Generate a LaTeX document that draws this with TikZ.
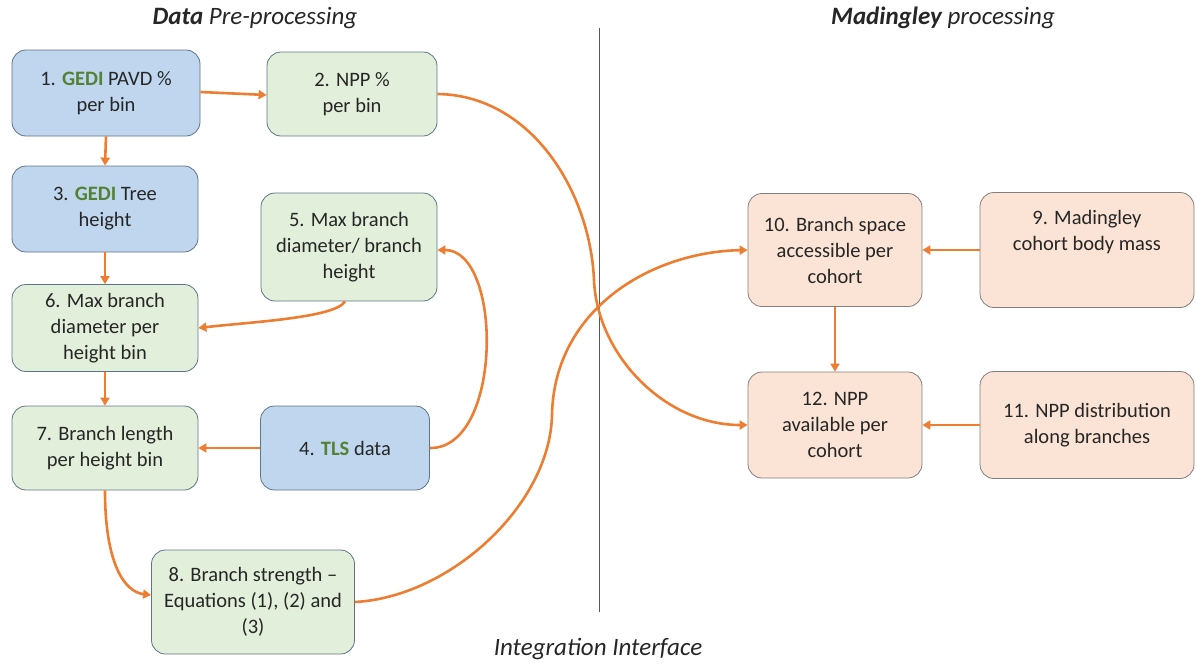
\documentclass[tikz,border=0pt]{standalone}
\usepackage{fontspec}
\setmainfont{Carlito}
\usetikzlibrary{arrows.meta}
\definecolor{bluef}{HTML}{BFD6EE}
\definecolor{greenf}{HTML}{E2EFDA}
\definecolor{peachf}{HTML}{FBE4D5}
\definecolor{bord}{HTML}{5F7488}
\definecolor{pbord}{HTML}{7F7F7F}
\definecolor{orng}{HTML}{ED7D31}
\definecolor{txt}{HTML}{262626}
\definecolor{gedi}{HTML}{548235}
\newcommand{\gd}[1]{\textcolor{gedi}{\textbf{#1}}}
\begin{document}
\begin{tikzpicture}[x=1pt,y=-1pt,
  box/.style={draw=bord, line width=0.8pt, rounded corners=14pt, align=center,
    text=txt, font=\fontsize{20.5}{26}\selectfont, inner sep=1pt},
  bbox/.style={box, fill=bluef},
  gbox/.style={box, fill=greenf},
  pbox/.style={box, fill=peachf, draw=pbord},
  arr/.style={draw=orng, line width=2.6pt, -{Triangle[length=8pt,width=9pt]}},
  ttl/.style={text=txt, font=\fontsize{25}{29}\selectfont\itshape}]
\useasboundingbox (0,0) rectangle (1196,664);
% titles
\node[ttl] (t1) at (255,18) {\textbf{Data} Pre-processing};
\node[ttl] (t2) at (943,18) {\textbf{Madingley} processing};
\node[ttl] (t3) at (598,649) {Integration Interface};
% divider
\coordinate (d1) at (599,28);
\coordinate (d2) at (599,612);
\draw[color=black!65, line width=0.9pt] (d1) -- (d2);
% boxes
\node[bbox, minimum width=188pt, minimum height=86pt] (n1) at (106,93) {1. \gd{GEDI} PAVD \%\\per bin};
\node[gbox, minimum width=170pt, minimum height=84pt] (n2) at (352,94) {2. NPP \%\\per bin};
\node[bbox, minimum width=186pt, minimum height=86pt] (n3) at (105,209) {3. \gd{GEDI} Tree\\height};
\node[gbox, minimum width=176pt, minimum height=108pt] (n5) at (349,247) {5. Max branch\\diameter/ branch\\height};
\node[gbox, minimum width=186pt, minimum height=87pt] (n6) at (105,328) {6. Max branch\\diameter per\\height bin};
\node[gbox, minimum width=186pt, minimum height=84pt] (n7) at (105,448) {7. Branch length\\per height bin};
\node[bbox, minimum width=169pt, minimum height=84pt] (n4) at (345,448) {4. \gd{TLS} data};
\node[gbox, minimum width=203pt, minimum height=104pt] (n8) at (253,602) {8. Branch strength –\\Equations (1), (2) and\\(3)};
\node[pbox, minimum width=174pt, minimum height=113pt] (n10) at (835,250) {10. Branch space\\accessible per\\cohort};
\node[pbox, minimum width=214pt, minimum height=115pt] (n9) at (1087,250) {9. Madingley\\cohort body mass\\[14pt]};
\node[pbox, minimum width=174pt, minimum height=106pt] (n12) at (835,425) {12. NPP\\available per\\cohort};
\node[pbox, minimum width=214pt, minimum height=107pt] (n11) at (1087,425) {11. NPP distribution\\along branches};
% waypoints of the long curves
\coordinate (w1) at (594,280);
\coordinate (w2) at (552,415);
% connectors
\draw[arr] (n1.east |- 0,92) -- (n2.west |- 0,95);
\draw[arr] (n1.south) -- (n3.north);
\draw[arr] (n3.south) -- (n6.north);
\draw[arr] (n6.south) -- (n7.north);
\draw[arr] (n4.west) -- (n7.east |- n4.west);
\draw[arr] (n5.south -| 345,0) .. controls (335,318) and (250,322) .. (n6.east);
\draw[arr] (n4.east) .. controls (503,449) and (503,250) .. (n5.east |- 0,250);
\draw[arr] (n7.south) .. controls (105,565) and (125,592) .. (n8.west |- 0,595);
\draw[arr] (n8.east) .. controls (450,597) and (550,505) .. (w2) .. controls (554,310) and (650,252) .. (n10.west);
\draw[arr] (n2.east) .. controls (530,95) and (590,190) .. (w1) .. controls (597,355) and (665,425) .. (n12.west);
\draw[arr] (n9.west) -- (n10.east);
\draw[arr] (n10.south) -- (n12.north);
\draw[arr] (n11.west) -- (n12.east);
\end{tikzpicture}
\end{document}
